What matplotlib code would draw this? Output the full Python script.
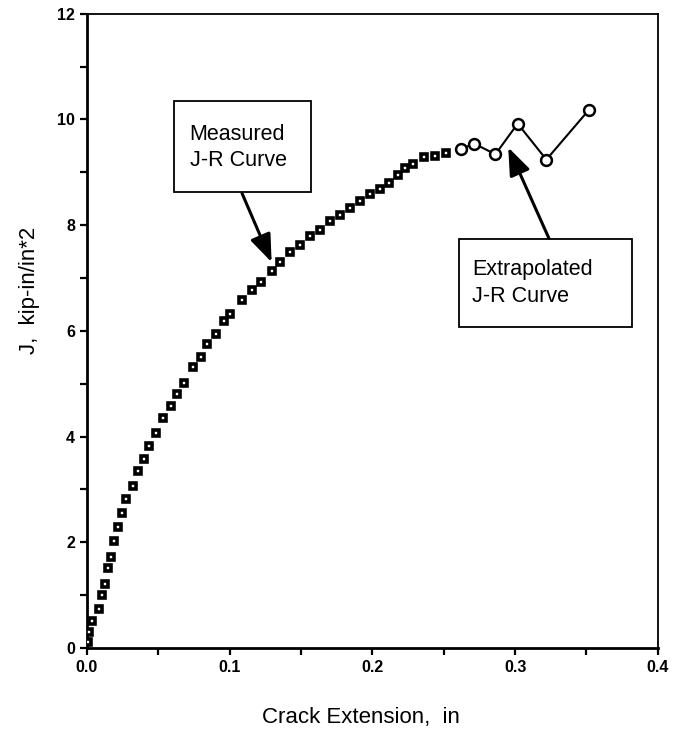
import matplotlib
matplotlib.use("Agg")
import matplotlib.pyplot as plt
from matplotlib.patches import Rectangle
from matplotlib.ticker import MultipleLocator

plt.rcParams["font.family"] = ["Liberation Sans", "DejaVu Sans"]

# measured J-R curve (square markers)
measured_da = [0.0006, 0.0015, 0.0033, 0.0084, 0.0108, 0.0129, 0.0147, 0.0168,
               0.0189, 0.0216, 0.0249, 0.0273, 0.0321, 0.0360, 0.0400, 0.0435,
               0.0486, 0.0535, 0.0589, 0.0634, 0.0682, 0.0745, 0.0799, 0.0844,
               0.0904, 0.0958, 0.1003, 0.1084, 0.1159, 0.1222, 0.1294, 0.1354,
               0.1420, 0.1490, 0.1565, 0.1634, 0.1706, 0.1772, 0.1844, 0.1916,
               0.1982, 0.2051, 0.2117, 0.2177, 0.2228, 0.2285, 0.2363, 0.2438,
               0.2514]
measured_j = [0.11, 0.31, 0.51, 0.74, 1.00, 1.22, 1.52, 1.73,
              2.03, 2.29, 2.55, 2.82, 3.07, 3.35, 3.57, 3.83,
              4.06, 4.35, 4.58, 4.81, 5.02, 5.32, 5.51, 5.75,
              5.94, 6.18, 6.32, 6.59, 6.77, 6.93, 7.14, 7.30,
              7.49, 7.62, 7.80, 7.91, 8.08, 8.19, 8.32, 8.46,
              8.59, 8.68, 8.80, 8.94, 9.09, 9.16, 9.28, 9.31,
              9.37]

# extrapolated J-R curve (open circles)
extrap_da = [0.2619, 0.2715, 0.2862, 0.3018, 0.3219, 0.3517]
extrap_j = [9.44, 9.54, 9.34, 9.92, 9.24, 10.18]

fig = plt.figure(figsize=(6.74, 7.41), dpi=100)
ax = fig.add_axes([0.129, 0.1255, 0.847, 0.856])

ax.plot(measured_da, measured_j, linestyle="none", marker="s", markersize=3.8,
        markerfacecolor="white", markeredgecolor="black", markeredgewidth=2.6,
        zorder=3)
ax.plot(extrap_da, extrap_j, color="black", linewidth=1.5, marker="o",
        markersize=7.8, markerfacecolor="white", markeredgecolor="black",
        markeredgewidth=1.8, zorder=3)

ax.set_xlim(0, 0.4)
ax.set_ylim(0, 12)
ax.xaxis.set_major_locator(MultipleLocator(0.1))
ax.xaxis.set_minor_locator(MultipleLocator(0.05))
ax.yaxis.set_major_locator(MultipleLocator(2))
ax.yaxis.set_minor_locator(MultipleLocator(1))
ax.xaxis.set_major_formatter(matplotlib.ticker.FormatStrFormatter("%.1f"))
ax.tick_params(which="both", direction="out", width=1.6, length=5)
ax.tick_params(labelsize=11.5)
for lab in ax.get_xticklabels() + ax.get_yticklabels():
    lab.set_fontweight("bold")

for side in ("left", "bottom"):
    ax.spines[side].set_linewidth(2.0)
for side in ("top", "right"):
    ax.spines[side].set_linewidth(1.3)

fig.text(361 / 674, 1 - 718 / 741, "Crack Extension,  in", ha="center",
         va="center", fontsize=16)
fig.text(29 / 674, 1 - 290 / 741, "J,  kip-in/in*2", ha="center",
         va="center", rotation=90, fontsize=16)

arrow = dict(arrowstyle="-|>,head_length=1.3,head_width=0.5", color="black",
             linewidth=2.2, shrinkA=0, shrinkB=0, mutation_scale=13)

# annotation boxes
ax.add_patch(Rectangle((0.0607, 8.62), 0.1568 - 0.0607, 10.34 - 8.62,
                       facecolor="white", edgecolor="black", linewidth=1.3,
                       zorder=4))
ax.text(0.0720, 9.47, "Measured\nJ-R Curve", ha="left", va="center",
        fontsize=15.5, linespacing=1.35, zorder=5)
ax.annotate("", xy=(0.1294, 7.30), xytext=(0.1087, 8.60),
            arrowprops=arrow, zorder=5)

ax.add_patch(Rectangle((0.2604, 6.08), 0.3820 - 0.2604, 7.73 - 6.08,
                       facecolor="white", edgecolor="black", linewidth=1.3,
                       zorder=4))
ax.text(0.2700, 6.90, "Extrapolated\nJ-R Curve", ha="left", va="center",
        fontsize=15.5, linespacing=1.35, zorder=5)
ax.annotate("", xy=(0.2952, 9.47), xytext=(0.3237, 7.75),
            arrowprops=arrow, zorder=5)

fig.savefig("out.png", dpi=100)
